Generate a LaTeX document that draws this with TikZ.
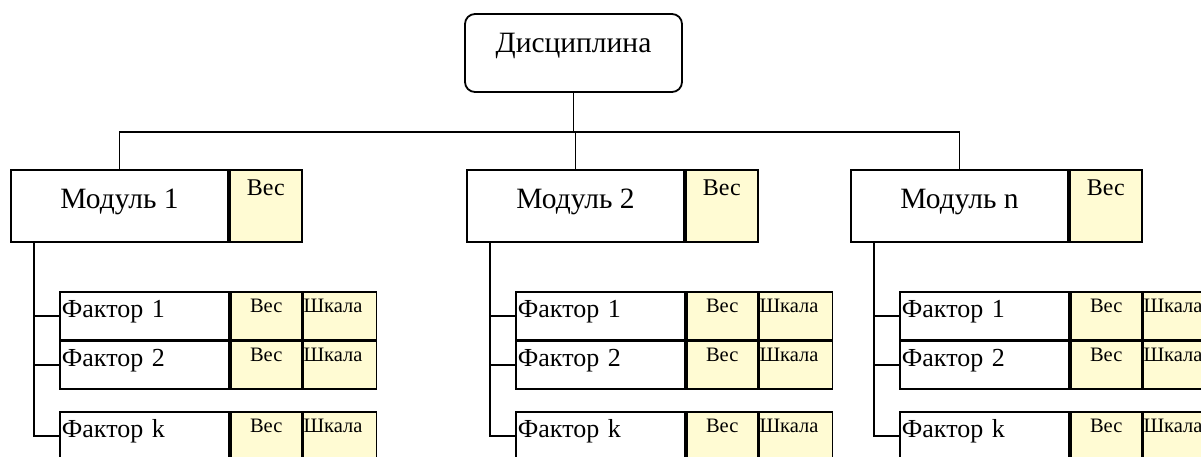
\documentclass[tikz,border=0pt]{standalone}
\usepackage{fontspec}
\setmainfont{Liberation Serif}
\definecolor{weightfill}{HTML}{FFFBD3}
\begin{document}
\begin{tikzpicture}[x=1pt, y=-1pt, line width=1.8pt,
    box/.style={draw, inner sep=0pt},
    discbox/.style={box, rounded corners=10pt, minimum width=217pt, minimum height=78pt,
      font=\fontsize{29.5}{29.5}\selectfont, text height=20pt, text depth=20pt},
    modbox/.style={box, minimum width=217pt, minimum height=72pt,
      font=\fontsize{29.5}{29.5}\selectfont, text height=22pt, text depth=18pt},
    modweight/.style={box, fill=weightfill, anchor=north west, minimum width=72pt, minimum height=72pt,
      font=\fontsize{24}{24}\selectfont, text height=16pt, text depth=36pt},
    factbox/.style={box, anchor=north west, inner xsep=2pt, text width=165pt, align=left,
      minimum height=47.5pt, font=\fontsize{26}{26}\selectfont, text height=19pt, text depth=16pt},
    factweight/.style={box, fill=weightfill, anchor=north west, minimum width=71pt, minimum height=47.5pt,
      font=\fontsize{20.5}{20.5}\selectfont, text height=13pt, text depth=20pt},
    factscale/.style={factweight, inner xsep=0pt, text width=73pt, align=left}]
  \useasboundingbox (0,0) rectangle (1201,457);

  \node[discbox] (disc) at (573.5,53) {Дисциплина};

  % modules
  \node[modbox] (m1) at (119.5,206) {Модуль 1};
  \node[modweight] (m1w) at (m1.north east) {Вес};
  \node[modbox] (m2) at (575.5,206) {Модуль 2};
  \node[modweight] (m2w) at (m2.north east) {Вес};
  \node[modbox] (mn) at (959.5,206) {Модуль n};
  \node[modweight] (mnw) at (mn.north east) {Вес};

  % factors of module 1
  \node[factbox] (f11) at (59,291) {Фактор 1};
  \node[factweight] (f11w) at (f11.north east) {Вес};
  \node[factscale] (f11s) at (f11w.north east) {Шкала};
  \node[factbox] (f12) at (f11.south west) {Фактор 2};
  \node[factweight] (f12w) at (f12.north east) {Вес};
  \node[factscale] (f12s) at (f12w.north east) {Шкала};
  \node[factbox] (f1k) at (59,411) {Фактор k};
  \node[factweight] (f1kw) at (f1k.north east) {Вес};
  \node[factscale] (f1ks) at (f1kw.north east) {Шкала};

  % factors of module 2
  \node[factbox] (f21) at (515,291) {Фактор 1};
  \node[factweight] (f21w) at (f21.north east) {Вес};
  \node[factscale] (f21s) at (f21w.north east) {Шкала};
  \node[factbox] (f22) at (f21.south west) {Фактор 2};
  \node[factweight] (f22w) at (f22.north east) {Вес};
  \node[factscale] (f22s) at (f22w.north east) {Шкала};
  \node[factbox] (f2k) at (515,411) {Фактор k};
  \node[factweight] (f2kw) at (f2k.north east) {Вес};
  \node[factscale] (f2ks) at (f2kw.north east) {Шкала};

  % factors of module n
  \node[factbox] (fn1) at (899,291) {Фактор 1};
  \node[factweight] (fn1w) at (fn1.north east) {Вес};
  \node[factscale] (fn1s) at (fn1w.north east) {Шкала};
  \node[factbox] (fn2) at (fn1.south west) {Фактор 2};
  \node[factweight] (fn2w) at (fn2.north east) {Вес};
  \node[factscale] (fn2s) at (fn2w.north east) {Шкала};
  \node[factbox] (fnk) at (899,411) {Фактор k};
  \node[factweight] (fnkw) at (fnk.north east) {Вес};
  \node[factscale] (fnks) at (fnkw.north east) {Шкала};

  % tree lines
  \draw (disc.south) -- ++(0,39) coordinate (bus);
  \draw (bus) -| (m1.north);
  \draw (bus) -| (m2.north);
  \draw (bus) -| (mn.north);

  \draw ([xshift=24pt]m1.south west) |- (f11.west);
  \draw ([xshift=24pt]m1.south west) |- (f12.west);
  \draw ([xshift=24pt]m1.south west) |- (f1k.west);
  \draw ([xshift=24pt]m2.south west) |- (f21.west);
  \draw ([xshift=24pt]m2.south west) |- (f22.west);
  \draw ([xshift=24pt]m2.south west) |- (f2k.west);
  \draw ([xshift=24pt]mn.south west) |- (fn1.west);
  \draw ([xshift=24pt]mn.south west) |- (fn2.west);
  \draw ([xshift=24pt]mn.south west) |- (fnk.west);
\end{tikzpicture}
\end{document}
